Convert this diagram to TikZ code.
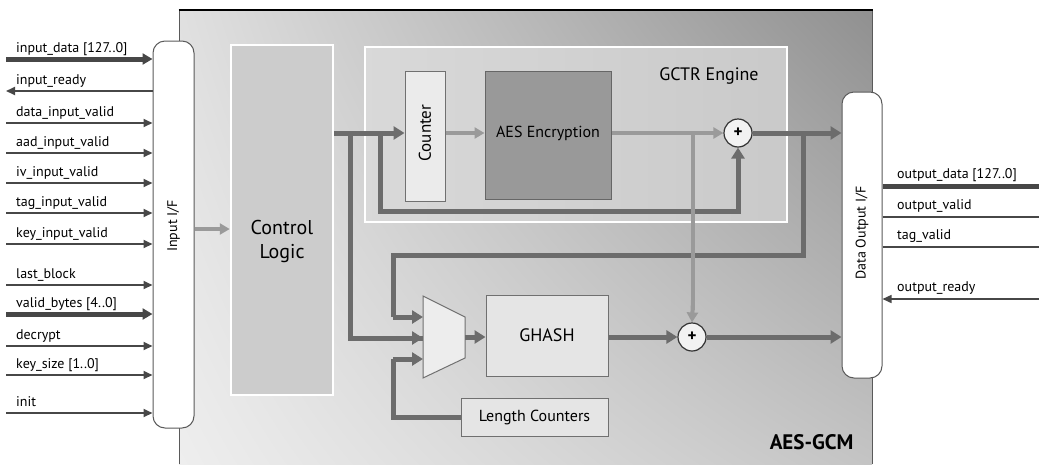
\documentclass[tikz,border=0pt]{standalone}
\usepackage{fontspec}
\setmainfont{PT Sans}
\usetikzlibrary{arrows.meta,calc,shadings}
\definecolor{wiredark}{HTML}{6C6C6C}
\definecolor{wirelight}{HTML}{9A9A9A}
\definecolor{sigdark}{HTML}{474747}
\definecolor{boxline}{HTML}{707070}
\definecolor{ifline}{HTML}{5A5A5A}
\definecolor{chipUL}{HTML}{E0E0E0}
\definecolor{chipUR}{HTML}{909090}
\definecolor{chipLL}{HTML}{EEEEEE}
\definecolor{chipLR}{HTML}{C4C4C4}
\begin{document}
\begin{tikzpicture}[x=1pt,y=-1pt,
  lbl/.style={font=\fontsize{14}{16}\selectfont, inner sep=0pt, anchor=base west},
  sigin/.style={draw=sigdark, line width=2pt, -{Triangle[length=9pt,width=8pt]}},
  sigout/.style={draw=sigdark, line width=2pt, {Triangle[length=9pt,width=8pt]}-},
  busin/.style={draw=sigdark, line width=5pt, -{Triangle[length=10pt,width=11pt]}},
  ifbox/.style={draw=ifline, fill=white, rounded corners=12pt, line width=1pt, inner sep=0pt},
  blk/.style={draw=boxline, line width=1pt, inner sep=0pt},
  wd/.style={draw=wiredark, line width=5pt},
  wda/.style={wd, -{Triangle[length=11pt,width=13pt]}},
  wl/.style={draw=wirelight, line width=4pt},
  wla/.style={wl, -{Triangle[length=10pt,width=11pt]}},
  xorc/.style={circle, draw=black!80, line width=1.2pt, fill=black!5, minimum size=28pt, inner sep=0pt, font=\fontsize{17}{17}\selectfont\bfseries}
]
\useasboundingbox (0,0) rectangle (1039,464);

% chip outline, shaded dark towards the top right corner
\shade[upper left=chipUL, upper right=chipUR, lower left=chipLL, lower right=chipLR]
  (179,10) rectangle (872,464);
\draw[ifline, line width=1pt] (179,464) -- (179,10);
\draw[ifline, line width=1pt] (872,10) -- (872,464);
\draw[black, line width=1.5pt] (178.5,10) -- (872.5,10);

% GCTR engine frame
\shade[left color=black!15, right color=black!21, draw=white, line width=2.5pt]
  (365,47) rectangle (787,222);
\node[font=\fontsize{18}{20}\selectfont, anchor=center] (gctrlbl) at (709,76) {GCTR Engine};

% main blocks
\node[ifbox, minimum width=41pt, minimum height=387pt] (inif) at (173.5,234.5) {};
\node[rotate=90, font=\fontsize{14}{16}\selectfont] (iniflbl) at (173.5,226) {Input I/F};
\node[draw=white, fill=black!20, line width=2.5pt, minimum width=102pt, minimum height=350pt, inner sep=0pt] (ctrl) at (282,220) {};
\node[align=center, font=\fontsize{20}{24}\selectfont] (ctrllbl) at (282,241) {Control\\Logic};

\node[blk, fill=black!8, minimum width=40pt, minimum height=130pt] (cnt) at (425,136) {};
\node[rotate=90, font=\fontsize{17}{18}\selectfont] (cntlbl) at (425,133) {Counter};
\node[blk, draw=black!60, fill=black!40, minimum width=126pt, minimum height=128pt] (aes) at (548,135) {};
\node[font=\fontsize{16}{18}\selectfont] (aeslbl) at (548,133) {AES Encryption};
\node[xorc] (x1) at (738,133) {+};

\node[blk, fill=black!10, minimum width=122pt, minimum height=81pt, font=\fontsize{18}{20}\selectfont] (gh) at (547,335.5) {GHASH};
\node[xorc] (x2) at (692,337) {+};
\node[blk, fill=black!10, minimum width=147pt, minimum height=38pt, font=\fontsize{16}{18}\selectfont] (lc) at (534.5,417) {Length Counters};

\draw[blk, fill=black!7] (423,296) -- (465,317) -- (465,358) -- (423,378) -- cycle;
\coordinate (mA) at (423,317);
\coordinate (mB) at (423,338);
\coordinate (mC) at (423,359);
\coordinate (mO) at (465,337);

\node[ifbox, minimum width=40pt, minimum height=286pt] (doif) at (862,235) {};
\node[rotate=90, font=\fontsize{14}{16}\selectfont] (doiflbl) at (862,233) {Data Output I/F};

% datapath wiring
\coordinate (c0) at (ctrl.east |- 0,133);
\coordinate (bA) at (350,133);
\coordinate (bB) at (380,133);
\coordinate (bC) at (693,133);
\coordinate (bD) at (803,133);
\draw[wda] (c0) -- (cnt.west |- c0);
\draw[wd] (bA) -- (350,338) -- (mB);
\draw[wda] (350,338) -- (mB);
\draw[wda] (bB) -- (380,211) -- (738,211) -- (x1.south);
\draw[wda] (x1.east) -- (doif.west |- x1);
\draw[wd] (bD) -- (803,255) -- (393,255) -- (393,317);
\draw[wda] (393,317) -- (mA);
\draw[wd] (lc.west) -- (393,417) -- (393,359);
\draw[wda] (393,359) -- (mC);
\draw[wda] (mO) -- (gh.west |- mO);
\draw[wda] (gh.east |- x2) -- (x2.west);
\draw[wda] (x2.east) -- (doif.west |- x2);

\draw[wla] (inif.east |- 0,229) -- (ctrl.west |- 0,229);
\draw[wla] (cnt.east |- 0,133) -- (aes.west |- 0,133);
\draw[wla] (aes.east |- 0,133) -- (x1.west);
\draw[wl] (bC) -- (693,310);
\draw[wla] (693,300) -- (x2.north);

% input port signals
\foreach \y/\t/\n/\s in {
  59/input\_data [127..0]/pA/busin,
  91/input\_ready/pB/sigout,
  123/data\_input\_valid/pC/sigin,
  153/aad\_input\_valid/pD/sigin,
  183/iv\_input\_valid/pE/sigin,
  213/tag\_input\_valid/pF/sigin,
  244/key\_input\_valid/pG/sigin,
  285/last\_block/pH/sigin,
  314/valid\_bytes [4..0]/pI/busin,
  346/decrypt/pJ/sigin,
  375/key\_size [1..0]/pK/sigin,
  413/init/pL/sigin}{
  \coordinate (\n) at (6,\y);
  \node[lbl] (\n-l) at (16,\y-7) {\t};
  \draw[\s] (\n) -- (\n -| inif.west);
}

% output port signals
\coordinate (qA) at (1039,186);
\coordinate (qB) at (1039,217);
\coordinate (qC) at (1039,247);
\coordinate (qD) at (1039,299);
\draw[draw=sigdark, line width=5pt] (doif.east |- qA) -- (qA);
\draw[draw=sigdark, line width=1.5pt] (doif.east |- qB) -- (qB);
\draw[draw=sigdark, line width=1.5pt] (doif.east |- qC) -- (qC);
\draw[draw=sigdark, line width=1.5pt, -{Triangle[length=9pt,width=8pt]}] (qD) -- (doif.east |- qD);
\node[lbl] (qA-l) at (897,178) {output\_data [127..0]};
\node[lbl] (qB-l) at (897,209) {output\_valid};
\node[lbl] (qC-l) at (897,239) {tag\_valid};
\node[lbl] (qD-l) at (897,291) {output\_ready};

\node[font=\fontsize{21}{22}\selectfont\bfseries, anchor=base east] (chip) at (857,449) {AES-GCM};
\end{tikzpicture}
\end{document}
